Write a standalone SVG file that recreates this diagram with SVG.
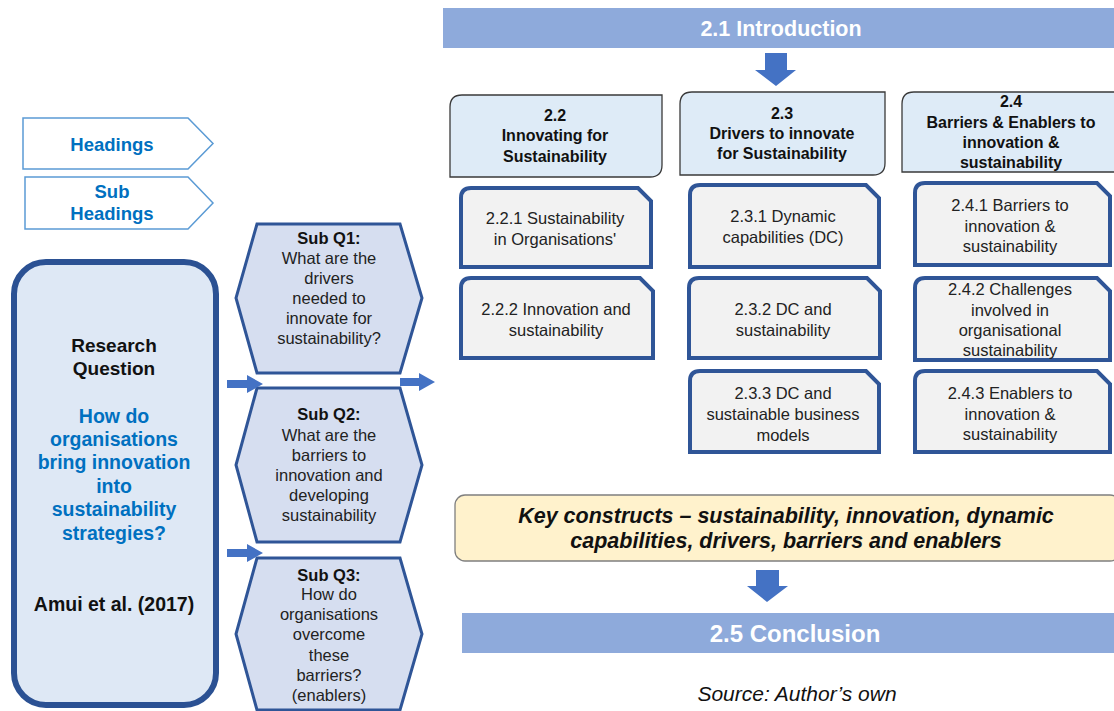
<svg xmlns="http://www.w3.org/2000/svg" width="1114" height="711" viewBox="0 0 1114 711">
  <style>
    .t { font-family: "Liberation Sans", Arial, sans-serif; text-anchor: middle; }
    .b { font-weight: bold; }
    .legend { fill: #fff; stroke: #5B9BD5; stroke-width: 1.5; }
    .legend-t { fill: #0070C0; font-size: 18.5px; font-weight: bold; }
    .banner { fill: #8EAADB; }
    .banner-t { fill: #fff; font-weight: bold; }
    .head { fill: #DEEBF7; stroke: #3A3A3A; stroke-width: 1.3; }
    .sub { fill: #F2F2F2; stroke: #2F5597; stroke-width: 4; }
    .sub-t { fill: #222; font-size: 16.5px; }
    .hex { fill: #D6DEF0; stroke: #2F5597; stroke-width: 3; }
    .hex-t { fill: #222; font-size: 16.5px; }
    .arrow { fill: #4472C4; }
  </style>

  <!-- Legend -->
  <g id="legend-headings">
    <polygon class="legend" points="23,118 188,118 213,143.5 188,169 23,169"/>
    <text class="t legend-t" x="112" y="151">Headings</text>
  </g>
  <g id="legend-subheadings">
    <polygon class="legend" points="25,177 188,177 213,203 188,229 25,229"/>
    <text class="t legend-t" x="112" y="198">Sub</text>
    <text class="t legend-t" x="112" y="220">Headings</text>
  </g>

  <!-- Research question -->
  <g id="research-question">
    <rect x="14" y="262" width="202" height="443" rx="32" fill="#DEE8F5" stroke="#2B5193" stroke-width="6"/>
    <text class="t b" font-size="19px" fill="#111" x="114" y="352">Research</text>
    <text class="t b" font-size="19px" fill="#111" x="114" y="375">Question</text>
    <g class="t b" font-size="19.5px" fill="#0070C0">
      <text x="114" y="423">How do</text>
      <text x="114" y="446">organisations</text>
      <text x="114" y="469">bring innovation</text>
      <text x="114" y="493">into</text>
      <text x="114" y="516">sustainability</text>
      <text x="114" y="540">strategies?</text>
    </g>
    <text class="t b" font-size="19.5px" fill="#111" x="114" y="611">Amui et al. (2017)</text>
  </g>

  <!-- Sub questions -->
  <g id="subq1">
    <polygon class="hex" points="257,224 400,224 422,298 400,373 257,373 236,298"/>
    <text class="t b" font-size="16.5px" fill="#111" x="329" y="244">Sub Q1:</text>
    <g class="t hex-t">
      <text x="329" y="264">What are the</text>
      <text x="329" y="284">drivers</text>
      <text x="329" y="304">needed to</text>
      <text x="329" y="324">innovate for</text>
      <text x="329" y="344">sustainability?</text>
    </g>
  </g>
  <g id="subq2">
    <polygon class="hex" points="257,388 400,388 422,465 400,542 257,542 236,465"/>
    <text class="t b" font-size="16.5px" fill="#111" x="329" y="420">Sub Q2:</text>
    <g class="t hex-t">
      <text x="329" y="441">What are the</text>
      <text x="329" y="461">barriers to</text>
      <text x="329" y="481">innovation and</text>
      <text x="329" y="501">developing</text>
      <text x="329" y="521">sustainability</text>
    </g>
  </g>
  <g id="subq3">
    <polygon class="hex" points="257,558 400,558 422,634 400,710 257,710 236,634"/>
    <text class="t b" font-size="16.5px" fill="#111" x="329" y="581">Sub Q3:</text>
    <g class="t hex-t">
      <text x="329" y="600">How do</text>
      <text x="329" y="620">organisations</text>
      <text x="329" y="640">overcome</text>
      <text x="329" y="661">these</text>
      <text x="329" y="681">barriers?</text>
      <text x="329" y="701">(enablers)</text>
    </g>
  </g>

  <!-- Chapter banners -->
  <g id="introduction">
    <rect class="banner" x="443" y="8" width="671" height="40"/>
    <text class="t banner-t" font-size="21.5px" x="781" y="36">2.1 Introduction</text>
  </g>

  <g id="section-2-2">
    <path class="head" d="M462,95 H662 V165 Q662,177 650,177 H450 V107 Q450,95 462,95 Z"/>
    <g class="t b" font-size="16px" fill="#111">
      <text x="555" y="121">2.2</text>
      <text x="555" y="141">Innovating for</text>
      <text x="555" y="162">Sustainability</text>
    </g>
  </g>
  <g id="section-2-3">
    <path class="head" d="M692,92 H885 V163 Q885,175 873,175 H680 V104 Q680,92 692,92 Z"/>
    <g class="t b" font-size="16px" fill="#111">
      <text x="782" y="119">2.3</text>
      <text x="782" y="139">Drivers to innovate</text>
      <text x="782" y="159">for Sustainability</text>
    </g>
  </g>
  <g id="section-2-4">
    <path class="head" d="M914,92 H1116 V172 H902 V104 Q902,92 914,92 Z"/>
    <g class="t b" font-size="16px" fill="#111">
      <text x="1011" y="107">2.4</text>
      <text x="1011" y="128">Barriers &amp; Enablers to</text>
      <text x="1011" y="148">innovation &amp;</text>
      <text x="1011" y="168">sustainability</text>
    </g>
  </g>

  <!-- Sub headings -->
  <g id="sub-2-2-1">
    <path class="sub" d="M471,188 H638 L651,201 V267 H461 V198 Q461,188 471,188 Z"/>
    <g class="t sub-t"><text x="555" y="224">2.2.1 Sustainability</text><text x="555" y="245">in Organisations'</text></g>
  </g>
  <g id="sub-2-2-2">
    <path class="sub" d="M471,278 H640 L653,291 V358 H461 V288 Q461,278 471,278 Z"/>
    <g class="t sub-t"><text x="556" y="315">2.2.2 Innovation and</text><text x="556" y="336">sustainability</text></g>
  </g>
  <g id="sub-2-3-1">
    <path class="sub" d="M700,185 H866 L879,198 V267 H690 V195 Q690,185 700,185 Z"/>
    <g class="t sub-t"><text x="783" y="222">2.3.1 Dynamic</text><text x="783" y="243">capabilities (DC)</text></g>
  </g>
  <g id="sub-2-3-2">
    <path class="sub" d="M699,278 H867 L880,291 V358 H689 V288 Q689,278 699,278 Z"/>
    <g class="t sub-t"><text x="783" y="315">2.3.2 DC and</text><text x="783" y="336">sustainability</text></g>
  </g>
  <g id="sub-2-3-3">
    <path class="sub" d="M700,371 H866 L879,384 V452 H690 V381 Q690,371 700,371 Z"/>
    <g class="t sub-t"><text x="783" y="399">2.3.3 DC and</text><text x="783" y="420">sustainable business</text><text x="783" y="441">models</text></g>
  </g>
  <g id="sub-2-4-1">
    <path class="sub" d="M925,183 H1097 L1110,196 V265 H915 V193 Q915,183 925,183 Z"/>
    <g class="t sub-t"><text x="1010" y="211">2.4.1 Barriers to</text><text x="1010" y="232">innovation &amp;</text><text x="1010" y="252">sustainability</text></g>
  </g>
  <g id="sub-2-4-2">
    <path class="sub" d="M925,278 H1097 L1110,291 V360 H915 V288 Q915,278 925,278 Z"/>
    <g class="t sub-t"><text x="1010" y="295">2.4.2 Challenges</text><text x="1010" y="316">involved in</text><text x="1010" y="336">organisational</text><text x="1010" y="356">sustainability</text></g>
  </g>
  <g id="sub-2-4-3">
    <path class="sub" d="M925,371 H1097 L1110,384 V452 H915 V381 Q915,371 925,371 Z"/>
    <g class="t sub-t"><text x="1010" y="399">2.4.3 Enablers to</text><text x="1010" y="420">innovation &amp;</text><text x="1010" y="440">sustainability</text></g>
  </g>

  <!-- Key constructs -->
  <g id="key-constructs">
    <rect x="455" y="495" width="665" height="66" rx="10" fill="#FFF2CC" stroke="#7F7F7F" stroke-width="1.3"/>
    <g class="t b" font-style="italic" font-size="21.5px" fill="#111">
      <text x="786" y="523">Key constructs – sustainability, innovation, dynamic</text>
      <text x="786" y="548">capabilities, drivers, barriers and enablers</text>
    </g>
  </g>

  <g id="conclusion">
    <rect class="banner" x="462" y="613" width="652" height="40"/>
    <text class="t banner-t" font-size="24px" x="795" y="642">2.5 Conclusion</text>
  </g>

  <text class="t" font-style="italic" font-size="21px" fill="#111" x="797" y="701">Source: Author’s own</text>

  <!-- Connectors -->
  <g id="connectors">
    <polygon class="arrow" points="765,53 787,53 787,70 796,70 776,86 755,70 765,70"/>
    <polygon class="arrow" points="756,570 779,570 779,586 788,586 767,602 747,586 756,586"/>
    <polygon class="arrow" points="227,380 247,380 247,375 263,384 247,393 247,388 227,388"/>
    <polygon class="arrow" points="227,549 247,549 247,544 263,553 247,562 247,557 227,557"/>
    <polygon class="arrow" points="400,378 419,378 419,373 435,382 419,391 419,386 400,386"/>
  </g>
</svg>
